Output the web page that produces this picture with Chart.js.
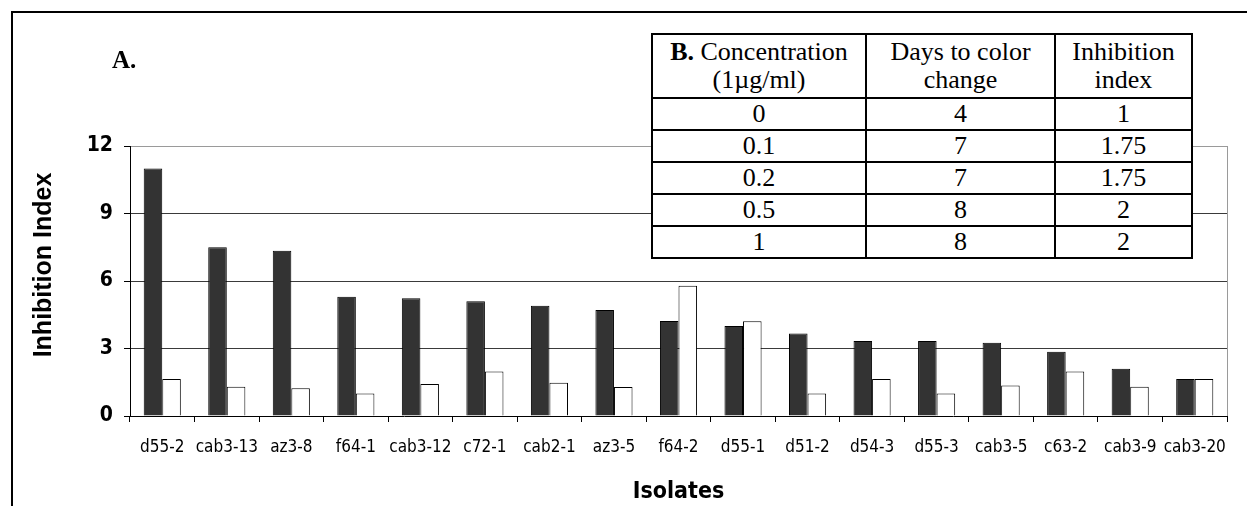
<!DOCTYPE html>
<html>
<head>
<meta charset="utf-8">
<script src="https://cdn.jsdelivr.net/npm/chart.js@4.4.1/dist/chart.umd.min.js"></script>
<style>
  body { margin: 0; background: #fff; }
  #wrap { position: relative; width: 1247px; height: 506px; overflow: hidden; }
  #frame { position: absolute; left: 11px; top: 11px; width: 1300px; height: 600px;
           border-left: 2px solid #000; border-top: 2px solid #000; }
  canvas { position: absolute; left: 0; top: 0; }
  #labelA { position: absolute; left: 112px; top: 46px; font: bold 25px "Liberation Serif", serif; }
  #tableB { position: absolute; left: 651px; top: 33px; border-collapse: collapse; background: #fff;
            table-layout: fixed; font: 26px "Liberation Serif", serif; color: #000; }
  #tableB td { border: 2px solid #000; text-align: center; padding: 0; line-height: 28px; }
  #tableB tr { height: 32px; }
  #tableB tr.head { height: 64px; }
</style>
</head>
<body>
<div id="wrap">
  <div id="frame"></div>
  <canvas id="chart" width="1247" height="506"></canvas>
  <div id="labelA">A.</div>
  <table id="tableB"></table>
</div>
<script>
// bar chart data
const isolates = ['d55-2', 'cab3-13', 'az3-8', 'f64-1', 'cab3-12', 'c72-1', 'cab2-1', 'az3-5', 'f64-2',
                  'd55-1', 'd51-2', 'd54-3', 'd55-3', 'cab3-5', 'c63-2', 'cab3-9', 'cab3-20'];
const darkValues = [11, 7.5, 7.35, 5.3, 5.23, 5.1, 4.9, 4.71, 4.22, 4.0, 3.67, 3.33, 3.33, 3.26, 2.86, 2.1, 1.64];
const whiteValues = [1.65, 1.3, 1.23, 1.0, 1.42, 1.98, 1.48, 1.29, 5.79, 4.21, 1.0, 1.64, 1.0, 1.36, 1.98, 1.3, 1.64];
const yTicks = [0, 3, 6, 9, 12];

// table B data
const concentrations = ['0', '0.1', '0.2', '0.5', '1'];
const daysToColorChange = ['4', '7', '7', '8', '8'];
const inhibitionIndex = ['1', '1.75', '1.75', '2', '2'];

// build table
const table = document.getElementById('tableB');
const colWidths = [214, 189, 137];
let html = '<colgroup>' + colWidths.map(w => '<col style="width:' + w + 'px">').join('') + '</colgroup>';
html += '<tr class="head"><td><b>B.</b> Concentration<br>(1µg/ml)</td><td>Days to color<br>change</td><td>Inhibition<br>index</td></tr>';
concentrations.forEach((c, i) => {
    html += '<tr><td>' + c + '</td><td>' + daysToColorChange[i] + '</td><td>' + inhibitionIndex[i] + '</td></tr>';
});
table.innerHTML = html;

const narrow = "'DejaVu Sans Condensed', 'Liberation Sans', sans-serif";

// y axis title drawn a bit above the plot centre, like the original
const yTitlePlugin = {
    id: 'yTitle',
    afterDraw(chart) {
        const ctx = chart.ctx;
        const area = chart.chartArea;
        ctx.save();
        ctx.translate(chart.scales.y.left + 44, (area.top + area.bottom) / 2 - 16);
        ctx.rotate(-Math.PI / 2);
        ctx.font = "bold 25px 'Liberation Sans', Arial, sans-serif";
        ctx.fillStyle = '#000';
        ctx.textAlign = 'center';
        ctx.textBaseline = 'middle';
        ctx.fillText('Inhibition Index', 0, 0);
        ctx.restore();
    }
};

new Chart(document.getElementById('chart').getContext('2d'), {
    type: 'bar',
    data: {
        labels: isolates,
        datasets: [
            { label: 'dark', data: darkValues, backgroundColor: '#333333', borderColor: '#000', borderWidth: 1 },
            { label: 'white', data: whiteValues, backgroundColor: '#ffffff', borderColor: '#000', borderWidth: 1 }
        ]
    },
    options: {
        responsive: false,
        animation: false,
        events: [],
        categoryPercentage: 0.575,
        barPercentage: 1.0,
        layout: { padding: { top: 146, right: 20, left: 0, bottom: 0 } },
        plugins: { legend: { display: false }, tooltip: { enabled: false } },
        scales: {
            x: {
                offset: true,
                grid: {
                    offset: true,
                    drawOnChartArea: true,
                    // only the closing line on the right is visible
                    color: ctx => ctx.tick ? 'rgba(0,0,0,0)' : '#9a9a9a',
                    tickColor: '#000',
                    tickLength: 6
                },
                border: { color: '#000', width: 1 },
                ticks: { autoSkip: false, maxRotation: 0, padding: 15, color: '#000', font: { family: narrow, size: 17 } },
                title: { display: true, text: 'Isolates', color: '#000', padding: { top: 13, bottom: 0 },
                         font: { family: narrow, size: 23, weight: 'bold' } },
                afterFit: s => { s.height = 90; }
            },
            y: {
                min: 0,
                max: 12,
                afterBuildTicks: s => { s.ticks = yTicks.map(v => ({ value: v })); },
                grid: {
                    color: ctx => ctx.tick.value === 12 ? '#9a9a9a' : (ctx.tick.value === 0 ? 'rgba(0,0,0,0)' : '#3a3a3a'),
                    tickColor: '#000',
                    tickLength: 6
                },
                border: { color: '#000', width: 1 },
                ticks: { padding: 11, color: '#000', font: { family: narrow, size: 21, weight: 'bold' } },
                afterFit: s => { s.width = 130; }
            }
        }
    },
    plugins: [yTitlePlugin]
});
</script>
</body>
</html>
